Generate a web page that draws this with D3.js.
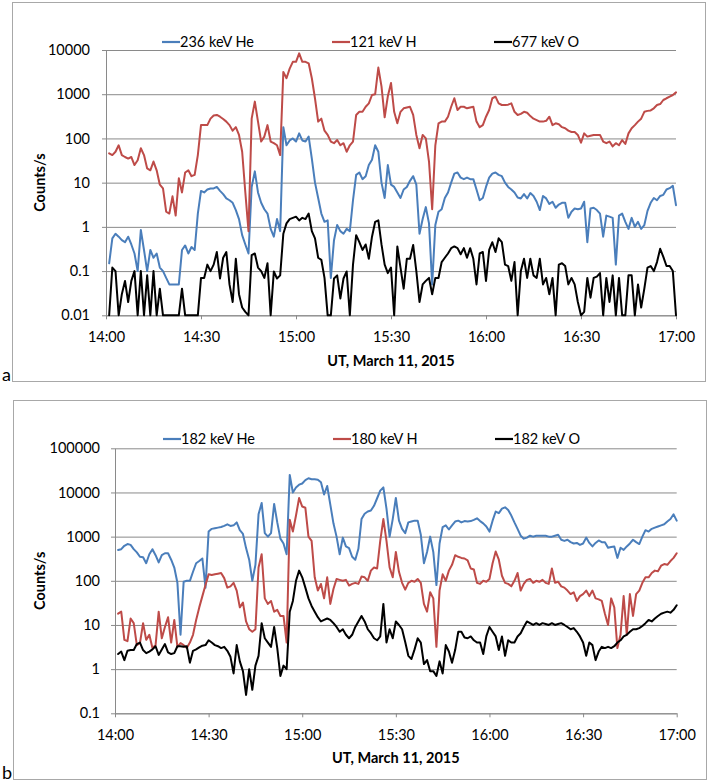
<!DOCTYPE html>
<html><head><meta charset="utf-8">
<script src="https://cdn.jsdelivr.net/npm/d3@7"></script>
<style>body{margin:0;background:#fff}</style>
</head><body>
<svg id="c" width="709" height="782"></svg>
<script>
// minutes after 14:00 UT
const minutes = d3.range(1, 181);
const xTickMinutes = [0, 30, 60, 90, 120, 150, 180];
const xTickLabels = ["14:00", "14:30", "15:00", "15:30", "16:00", "16:30", "17:00"];
const yTicksA = [0.01, 0.1, 1, 10, 100, 1000, 10000];
const yTickLabelsA = ["0.01", "0.1", "1", "10", "100", "1000", "10000"];
const yTicksB = [0.1, 1, 10, 100, 1000, 10000, 100000];
const yTickLabelsB = ["0.1", "1", "10", "100", "1000", "10000", "100000"];
const seriesNamesA = ["236 keV He", "121 keV H", "677 keV O"];
const seriesNamesB = ["182 keV He", "180 keV H", "182 keV O"];
const xTitle = "UT, March 11, 2015";
const yTitle = "Counts/s";

// Panel a
const aHe = [
 0.15,0.55,0.7,0.6,0.5,0.45,0.6,0.4,0.25,0.1,
 0.85,0.3,0.1,0.3,0.2,0.25,0.12,0.1,0.07,0.05,
 0.05,0.05,0.05,0.3,0.38,0.25,0.35,0.3,2.0,6.5,
 6.0,7.0,7.4,7.4,8,6.5,5.5,4.4,4.0,3.5,
 2.4,1.5,0.65,0.4,0.25,8,18,6,3.5,2.5,
 2.0,0.9,0.6,1.5,0.8,180,70,90,100,85,
 130,90,85,110,35,10,4.5,2.0,1.3,1.4,
 0.07,0.5,1.1,0.8,0.7,0.9,0.8,4,15,17,
 12,14,25,33,70,50,10,4.5,25,9,
 8,6,4.5,7,8,11,14,9,0.7,1.5,
 2.8,1.2,0.05,1.1,2.2,2.5,4.5,6,10,16,
 17,13,12,13,12,12,7,4,4.5,8,
 13,16,17,15,14,10,8,7,6,4.6,
 4.4,5.5,4.4,5.8,5,3.7,2.4,5,4.4,3.3,
 3.7,2.7,3.2,3.5,3.5,1.6,2.2,2.6,2.5,2.6,
 3.7,0.45,2.6,2.7,2.4,2.0,0.6,1.8,1.7,1.6,
 0.14,1.8,2.0,1.3,0.9,1.6,1.0,1.3,0.9,1.1,
 2.3,3.5,4.5,4.0,5,5.3,7,7.5,8.5,3.1];
const aH = [
 46,42,50,70,42,38,35,38,25,32,
 60,42,21,19,30,19,9,7.4,2.2,2.0,
 4.9,1.8,12.6,6,17,19,14,15,42,200,
 200,200,280,330,340,310,275,240,200,150,
 180,120,50,6,0.8,280,680,240,85,110,
 200,85,78,70,42,3200,2300,3800,5400,5400,
 8400,5400,5400,5000,2300,800,240,280,150,120,
 85,78,92,70,78,50,70,85,340,400,
 400,520,620,960,1000,4000,1500,300,900,1800,
 400,220,400,480,500,520,340,120,60,120,
 100,30,2.5,70,220,240,240,310,520,810,
 440,520,520,480,500,520,240,180,200,310,
 440,810,880,620,570,570,580,620,400,340,
 360,400,380,320,280,260,240,240,250,310,
 200,220,210,180,170,150,140,140,120,80,
 130,110,115,120,120,120,85,78,85,66,
 78,70,92,75,130,170,200,240,280,400,
 420,430,480,570,600,740,810,880,960,1100];
const aO = [
 0.01,0.12,0.1,0.01,0.03,0.06,0.02,0.06,0.1,0.01,
 0.1,0.01,0.08,0.01,0.1,0.01,0.04,0.01,0.01,0.01,
 0.01,0.01,0.01,0.04,0.01,0.01,0.01,0.01,0.01,0.07,
 0.07,0.14,0.1,0.14,0.27,0.068,0.2,0.27,0.05,0.02,
 0.19,0.03,0.015,0.012,0.01,0.23,0.25,0.12,0.1,0.07,
 0.15,0.01,0.098,0.068,0.08,0.7,1.2,1.5,1.6,1.7,
 1.4,1.6,1.5,2.0,0.8,0.55,0.2,0.18,0.07,0.01,
 0.01,0.068,0.08,0.024,0.068,0.098,0.01,0.14,0.65,0.45,
 0.3,0.4,0.19,0.6,1.3,1.4,0.4,0.14,0.09,0.12,
 0.01,0.36,0.12,0.04,0.19,0.19,0.39,0.1,0.02,0.05,
 0.06,0.07,0.03,0.07,0.07,0.16,0.2,0.25,0.33,0.36,
 0.33,0.24,0.33,0.2,0.33,0.19,0.05,0.25,0.27,0.06,
 0.3,0.45,0.27,0.55,0.45,0.14,0.13,0.06,0.16,0.01,
 0.1,0.19,0.07,0.19,0.08,0.07,0.19,0.05,0.07,0.03,
 0.07,0.01,0.14,0.15,0.13,0.05,0.07,0.05,0.02,0.01,
 0.012,0.07,0.025,0.07,0.075,0.09,0.01,0.07,0.02,0.08,
 0.01,0.07,0.01,0.01,0.08,0.08,0.01,0.05,0.015,0.04,
 0.12,0.13,0.1,0.16,0.32,0.21,0.13,0.13,0.1,0.01];

// Panel b
const bHe = [
 500,520,620,680,650,520,440,350,340,250,
 400,520,380,260,380,420,420,300,200,90,
 6,95,100,100,160,250,280,320,70,1300,
 1500,1550,1600,1650,1750,1900,1750,1800,2100,1400,
 1150,550,300,100,230,3200,5800,1200,1000,1200,
 5500,2100,900,700,400,25000,10000,13000,15000,16000,
 19000,21000,20000,20000,19500,17000,9000,14000,5300,2000,
 1000,400,950,600,550,350,300,530,2500,3300,
 3700,3900,5000,7400,11000,13000,4300,1000,2500,7500,
 2300,1500,1200,2100,2200,2300,2300,1100,250,450,
 1000,450,80,700,1650,1800,1450,1800,2200,2300,
 2100,2250,2200,2250,2400,2600,2250,2000,1700,1300,
 2300,3700,3400,4300,4600,4000,3000,2100,1500,1050,
 900,950,1050,1000,1050,1050,1050,1050,1000,1000,
 1050,1100,850,800,850,750,700,720,650,700,
 950,720,600,720,820,750,750,560,580,600,
 330,560,500,600,700,850,750,680,1000,1400,
 1300,1500,1600,1700,1800,1900,2200,2500,3200,2300];
const bH = [
 18,20,4.6,4.3,14,11,3.5,3.9,11,4.6,
 6,3,3.5,20,5,9,15,4,13,3.2,
 3.9,3.5,3,4,6,13,25,45,80,140,
 135,140,145,150,115,70,75,90,60,25,
 32,12,8,7,8,200,400,40,30,35,
 20,22,16,16,4,2400,1300,3000,7500,4800,
 4500,1000,800,120,60,85,40,120,30,65,
 110,105,100,105,78,85,90,85,125,120,
 100,170,200,190,800,2500,800,200,120,450,
 160,90,63,90,100,95,110,90,30,20,
 55,40,3.2,60,140,100,170,230,380,350,
 330,320,290,190,180,90,85,100,95,110,
 250,460,300,130,90,85,75,100,150,60,
 85,105,110,90,100,95,105,90,85,190,
 90,95,75,70,60,50,55,35,45,50,
 60,45,60,40,38,35,18,10,40,25,
 3,6,45,6,50,16,50,60,90,120,
 120,150,170,165,220,240,230,280,330,420];
const bO = [
 2.2,2.5,1.6,2.6,2.7,2.7,3.7,4,2.7,2.3,
 2.5,2.8,3.3,2.1,2.8,3.7,2.4,2.2,2.3,3.3,
 3.3,3.2,3.3,1.4,2.6,2.8,3.1,3.4,3.5,4.5,
 4,3.5,3.3,3.0,3.2,2.6,1.9,0.8,3.5,1.5,
 0.9,0.26,1.0,0.34,1.2,2,11,5,4,3.2,
 9,3,0.7,1.2,1.0,20,35,100,170,120,
 70,40,27,20,15,12,13,14,13,11,
 9,7,8,6,5,6,9,12,16,12,
 8,6.5,5,4.5,5.5,30,4,8,5,12,
 10,8,4.1,2.0,1.7,2.8,5,4,1.3,1.6,
 0.9,0.9,0.7,1.5,0.8,3.5,2.5,1.4,2.7,7,
 7,5.2,5,5.5,4.5,4,4,2.2,5.6,9,
 7,5.5,2.7,5.5,2.0,4.5,4,4,5.5,6.5,
 9,12,11,10,11,10,11,10.5,10,11,
 10,10.5,11,10,9,8,8.5,7,5.5,4,
 2,4,3.5,1.6,2.5,3.2,3,3.2,3.0,3.3,
 4,4.5,5.5,6,7,8,8,8.5,9.5,11,
 13,12,14,16,18,19,20,19,22,28];

const FONT = "Lato, 'Open Sans', 'DejaVu Sans', sans-serif";
const COLORS = ["#4a7ebb", "#be4b48", "#000000"];
const GRID = "#8a8a8a";
const svg = d3.select("#c");

function drawPanel(p) {
  const g = svg.append("g");
  g.append("rect")
    .attr("x", p.box[0] + 0.5).attr("y", p.box[1] + 0.5)
    .attr("width", p.box[2]).attr("height", p.box[3])
    .attr("fill", "none").attr("stroke", "#a8a8a8").attr("stroke-width", 1);

  const x = d3.scaleLinear().domain([0, 180]).range([p.left, p.right]);
  const y = d3.scaleLog().domain(p.domain).range([p.bottom, p.top]);
  const plotW = p.right - p.left;

  const ya = g.append("g").attr("transform", `translate(${p.left},0)`)
    .call(d3.axisLeft(y).tickValues(p.yTicks).tickFormat((d, i) => p.yLabels[i])
      .tickSize(-plotW).tickSizeOuter(0).tickPadding(p.yPad));
  ya.select(".domain").attr("stroke", GRID);
  ya.selectAll(".tick line").attr("stroke", GRID).attr("x1", -4);
  ya.selectAll(".tick text").attr("font-family", FONT).attr("font-size", 14.5).attr("fill", "#000");

  const xa = g.append("g").attr("transform", `translate(0,${p.bottom})`)
    .call(d3.axisBottom(x).tickValues(xTickMinutes).tickFormat((d, i) => xTickLabels[i])
      .tickSize(4).tickSizeOuter(0).tickPadding(12));
  xa.select(".domain").attr("stroke", GRID);
  xa.selectAll(".tick line").attr("stroke", GRID);
  xa.selectAll(".tick text").attr("font-family", FONT).attr("font-size", 14.5).attr("fill", "#000");

  const line = d3.line().x((d, i) => x(minutes[i])).y(d => y(d));
  p.series.forEach((s, k) => {
    g.append("path").datum(s).attr("d", line)
      .attr("fill", "none").attr("stroke", COLORS[k]).attr("stroke-width", 2)
      .attr("stroke-linejoin", "round").attr("stroke-linecap", "round");
  });

  // legend
  p.names.forEach((n, k) => {
    const lx = p.legendX[k];
    g.append("line").attr("x1", lx).attr("x2", lx + 18).attr("y1", p.legendY).attr("y2", p.legendY)
      .attr("stroke", COLORS[k]).attr("stroke-width", 2.2);
    g.append("text").attr("x", lx + 18).attr("y", p.legendY).attr("dy", "0.36em")
      .attr("font-family", FONT).attr("font-size", 14.5).attr("fill", "#000").text(n);
  });

  g.append("text").attr("x", (p.left + p.right) / 2).attr("y", p.xTitleY).attr("dy", "0.36em")
    .attr("text-anchor", "middle").attr("font-family", FONT).attr("font-weight", "bold")
    .attr("font-size", 14.5).attr("fill", "#000").text(xTitle);
  g.append("text").attr("transform", `translate(${p.yTitleX},${(p.top + p.bottom) / 2}) rotate(-90)`)
    .attr("dy", "0.36em").attr("text-anchor", "middle").attr("font-family", FONT)
    .attr("font-weight", "bold").attr("font-size", 14.5).attr("fill", "#000").text(yTitle);
  g.append("text").attr("x", 2).attr("y", p.letterY).attr("font-family", FONT)
    .attr("font-size", 18).attr("fill", "#000").text(p.letter);
}

drawPanel({
  box: [12, 2, 693, 379], left: 106, right: 676, top: 50, bottom: 315.3,
  domain: [0.01, 10000], yTicks: yTicksA, yLabels: yTickLabelsA, yPad: 16,
  series: [aHe, aH, aO], names: seriesNamesA, legendX: [162, 332, 494], legendY: 42,
  xTitleY: 360.5, yTitleX: 40, letter: "a", letterY: 381
});
drawPanel({
  box: [13, 400, 693, 379], left: 115, right: 676.7, top: 448.3, bottom: 713.3,
  domain: [0.1, 100000], yTicks: yTicksB, yLabels: yTickLabelsB, yPad: 15,
  series: [bHe, bH, bO], names: seriesNamesB, legendX: [163, 333, 495], legendY: 439,
  xTitleY: 758, yTitleX: 40, letter: "b", letterY: 779
});
</script>
</body></html>
